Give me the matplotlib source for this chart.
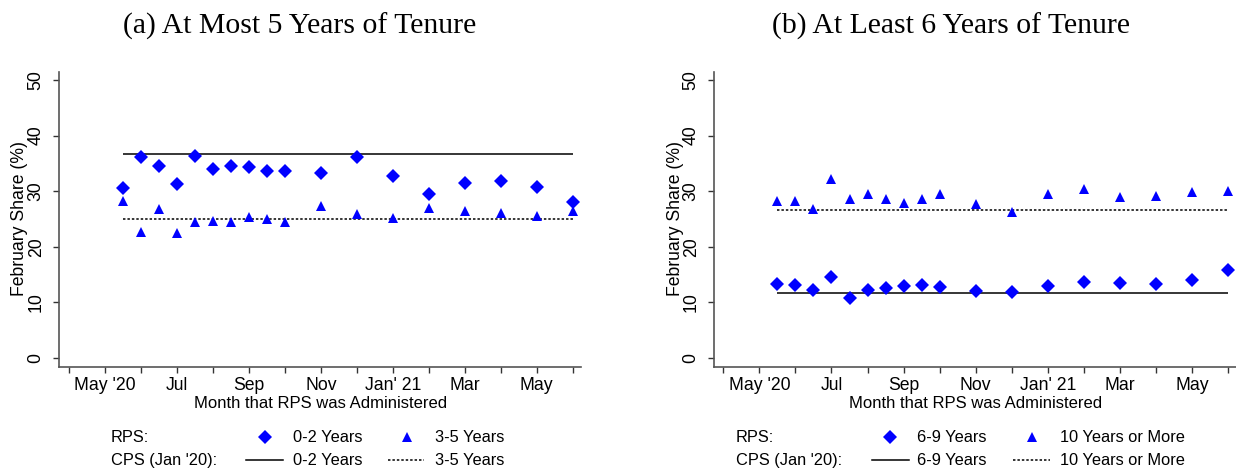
import matplotlib
matplotlib.use("Agg")
import matplotlib.pyplot as plt

# ---- data ----
# x positions in months since April 2020 (0 = Apr '20 ... 14 = Jun '21); half months = mid-month waves
survey_month = [1.5, 2, 2.5, 3, 3.5, 4, 4.5, 5, 5.5, 6, 7, 8, 9, 10, 11, 12, 13, 14]
tick_positions = list(range(0, 15))
tick_labels = ['', "May '20", '', 'Jul', '', 'Sep', '', 'Nov', '', "Jan' 21", '', 'Mar', '', 'May', '']

rps_0_2 = [30.5, 36.1, 34.5, 31.2, 36.4, 34.0, 34.6, 34.3, 33.6, 33.6, 33.3, 36.1, 32.7, 29.4, 31.5, 31.8, 30.8, 28.0]
rps_3_5 = [28.2, 22.7, 26.8, 22.5, 24.4, 24.7, 24.5, 25.3, 25.0, 24.5, 27.3, 25.8, 25.2, 27.0, 26.4, 26.1, 25.5, 26.4]
rps_6_9 = [13.3, 13.1, 12.2, 14.5, 10.8, 12.2, 12.5, 12.9, 13.1, 12.8, 12.1, 11.9, 13.0, 13.6, 13.5, 13.3, 14.0, 15.8]
rps_10p = [28.3, 28.3, 26.7, 32.1, 28.6, 29.4, 28.6, 27.9, 28.5, 29.4, 27.6, 26.3, 29.4, 30.3, 28.9, 29.1, 29.8, 30.0]

cps_0_2 = 36.7
cps_3_5 = 25.0
cps_6_9 = 11.6
cps_10p = 26.65

titles = ['(a) At Most 5 Years of Tenure', '(b) At Least 6 Years of Tenure']
xlabel = 'Month that RPS was Administered'
ylabel = 'February Share (%)'

SANS = 'Liberation Sans'
SERIF = 'Liberation Serif'
BLUE = '#0000ff'
MS_D = 6.8
MS_T = 7.4

W, H = 1236, 473
fig = plt.figure(figsize=(W / 100, H / 100), dpi=100)


def px_axes(x0, x1, y0, y1):
    return fig.add_axes([x0 / W, 1 - y1 / H, (x1 - x0) / W, (y1 - y0) / H])


panels = [
    dict(box=(59.3, 581.3, 71.7, 366.7), xlim=(-0.275, 14.24),
         d=rps_0_2, t=rps_3_5, solid=cps_0_2, dotted=cps_3_5,
         title_x=300, ylab_x=20),
    dict(box=(714.3, 1236, 71.7, 366.7), xlim=(-0.25, 14.22),
         d=rps_6_9, t=rps_10p, solid=cps_6_9, dotted=cps_10p,
         title_x=951, ylab_x=675),
]

for i, p in enumerate(panels):
    ax = px_axes(*p['box'])
    ax.set_xlim(*p['xlim'])
    ax.set_ylim(-1.6, 51.5)
    for s in ['top', 'right']:
        ax.spines[s].set_visible(False)
    for s in ['left', 'bottom']:
        ax.spines[s].set_color('#555555')
        ax.spines[s].set_linewidth(1.2)

    ax.hlines(p['solid'], survey_month[0], survey_month[-1], colors='black', linewidth=1.1)
    ax.hlines(p['dotted'], survey_month[0], survey_month[-1], colors='black', linewidth=1.1,
              linestyles=(0, (1.6, 1.3)))
    ax.plot(survey_month, p['d'], linestyle='none', marker='D', markersize=MS_D,
            color=BLUE, markeredgewidth=0, clip_on=False)
    ax.plot(survey_month, p['t'], linestyle='none', marker='^', markersize=MS_T,
            color=BLUE, markeredgewidth=0, clip_on=False)

    ax.set_xticks(tick_positions)
    ax.set_xticklabels(tick_labels, fontsize=12.7, family=SANS)
    ax.set_yticks([0, 10, 20, 30, 40, 50])
    ax.set_yticklabels(['0', '10', '20', '30', '40', '50'], fontsize=12.7, family=SANS,
                       rotation=90, va='center')
    ax.tick_params(axis='both', length=4.5, width=1.0, color='#333333', direction='out')
    ax.tick_params(axis='x', pad=3.0)
    ax.tick_params(axis='y', pad=6.0)

    cx = (p['box'][0] + p['box'][1]) / 2
    fig.text(cx / W, 1 - 403.5 / H, xlabel, ha='center', va='center', fontsize=12, family=SANS)
    fig.text(p['ylab_x'] / W, 1 - 219 / H, ylabel, ha='center', va='center', rotation=90,
             fontsize=12.7, family=SANS)
    fig.text(p['title_x'] / W, 1 - 26 / H, titles[i], ha='center', va='center',
             fontsize=21.4, family=SERIF)

# ---- legends (drawn in a pixel-coordinate overlay) ----
leg = fig.add_axes([0, 0, 1, 1])
leg.set_xlim(0, W)
leg.set_ylim(H, 0)
leg.axis('off')
leg.patch.set_alpha(0)

legend_specs = [
    dict(x_lab=110.7, diam=265, line=(246, 282.7), lab1=292.6, tri=407.3, dline=(388.3, 423.9),
         lab2=435, names=('0-2 Years', '3-5 Years')),
    dict(x_lab=735.9, diam=890, line=(871.5, 908.8), lab1=917.4, tri=1031.8, dline=(1012.9, 1050.3),
         lab2=1060, names=('6-9 Years', '10 Years or More')),
]
r1, r2 = 437.3, 460.0
for s in legend_specs:
    leg.text(s['x_lab'], r1, 'RPS:', ha='left', va='center', fontsize=11.8, family=SANS)
    leg.text(s['x_lab'], r2, "CPS (Jan '20):", ha='left', va='center', fontsize=11.8, family=SANS)
    leg.plot([s['diam']], [r1], marker='D', markersize=MS_D, color=BLUE, markeredgewidth=0, linestyle='none')
    leg.plot([s['tri']], [r1 - 0.5], marker='^', markersize=MS_T, color=BLUE, markeredgewidth=0, linestyle='none')
    leg.plot(list(s['line']), [r2, r2], color='black', linewidth=1.1)
    leg.plot(list(s['dline']), [r2, r2], color='black', linewidth=1.1, linestyle=(0, (1.6, 1.3)))
    for lx, nm in ((s['lab1'], s['names'][0]), (s['lab2'], s['names'][1])):
        leg.text(lx, r1, nm, ha='left', va='center', fontsize=11.8, family=SANS)
        leg.text(lx, r2, nm, ha='left', va='center', fontsize=11.8, family=SANS)

fig.savefig('out.png', dpi=100)
